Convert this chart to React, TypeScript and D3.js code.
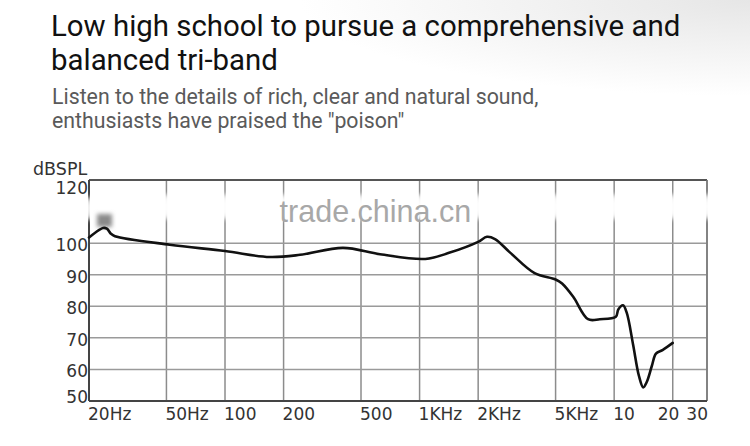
import React from "react";
import * as d3 from "d3";

const W = 750;
const H = 446;

const titleLines = ["Low high school to pursue a comprehensive and", "balanced tri-band"];
const subtitleLines = ["Listen to the details of rich, clear and natural sound,", 'enthusiasts have praised the "poison"'];
const yLabel = "dBSPL";
const watermark = "trade.china.cn";

const yTicks = [50, 60, 70, 80, 90, 100, 120];
const xTicks = [20, 50, 100, 200, 500, 1000, 2000, 5000, 10000, 20000, 30000];
const xTickLabels = ["20Hz", "50Hz", "100", "200", "500", "1KHz", "2KHz", "5KHz", "10", "20", "30"];

const freqs = [20, 21.5, 23.6, 24.7, 25.9, 27.2, 52, 100, 170, 243, 404, 626, 1070, 1430, 2000, 2220, 2440, 2920, 3900, 5000, 5400, 6160, 7340, 8440, 10200, 10500, 11100, 11600, 12500, 13400, 14100, 14700, 15600, 16400, 17800, 20000];
const spl = [101.8, 103.3, 104.8, 104.6, 103.0, 102.2, 99.5, 97.5, 95.6, 96.3, 98.5, 96.5, 95.0, 97.0, 100.4, 102.0, 101.3, 97.0, 90.5, 88.5, 87.2, 83.0, 75.9, 75.9, 76.7, 79.0, 80.3, 78.0, 68.0, 58.0, 54.3, 56.0, 61.0, 65.0, 66.2, 68.4];

export default function App() {
  const left = 89, right = 707, top = 180, bottom = 401;
  const x = d3.scaleLog().domain([20, 30000]).range([left, right]);
  const y = d3.scaleLinear().domain([50, 120]).range([bottom, top]);
  const line = d3
    .line<number>()
    .x((_, i) => x(freqs[i]))
    .y((d) => y(d))
    .curve(d3.curveCatmullRom.alpha(0.5));
  const path = line(spl) || "";

  const font = "Roboto, 'Open Sans', sans-serif";
  const tickFont = "'DejaVu Sans', sans-serif";

  return (
    <svg width={W} height={H} style={{ position: "absolute", left: 0, top: 0, display: "block" }}>
      <defs>
        <radialGradient id="bg" cx="100%" cy="0%" r="60%">
          <stop offset="0%" stopColor="#e6e6e6" />
          <stop offset="100%" stopColor="#ffffff" />
        </radialGradient>
        <filter id="blur2" x="-100%" y="-100%" width="300%" height="300%">
          <feGaussianBlur stdDeviation="2" />
        </filter>
      </defs>
      <rect x={0} y={0} width={W} height={H} fill="#fff" />
      <rect x={0} y={0} width={W} height={160} fill="url(#bg)" />

      {titleLines.map((t, i) => (
        <text key={t} x={51} y={36 + i * 34} fontFamily={font} fontSize={29.4} fill="#111">
          {t}
        </text>
      ))}
      {subtitleLines.map((t, i) => (
        <text key={t} x={52} y={104 + i * 24} fontFamily={font} fontSize={21.3} fill="#5a5a5a">
          {t}
        </text>
      ))}

      {/* grid */}
      {xTicks.map((f) => (
        <line key={"vx" + f} x1={x(f)} x2={x(f)} y1={top} y2={bottom} stroke="#8c8c8c" strokeWidth={1.5} />
      ))}
      {yTicks.map((v) => (
        <line key={"hy" + v} x1={left} x2={right} y1={y(v)} y2={y(v)} stroke="#9a9a9a" strokeWidth={1.5} />
      ))}
      <line x1={left} x2={right} y1={top} y2={top} stroke="#555" strokeWidth={2} />
      <line x1={right} x2={right} y1={top} y2={bottom} stroke="#777" strokeWidth={1.5} />
      <line x1={left} x2={left} y1={top} y2={bottom} stroke="#444" strokeWidth={2} />
      <line x1={left} x2={right} y1={bottom} y2={bottom} stroke="#444" strokeWidth={2} />

      {/* blurred patches of the original */}
      {xTicks.slice(1).map((f) => (
        <ellipse key={"bl" + f} cx={x(f)} cy={y(111.5)} rx={5} ry={13} fill="#fff" filter="url(#blur2)" />
      ))}
      <ellipse cx={left} cy={y(111)} rx={4} ry={12} fill="#fff" filter="url(#blur2)" />
      <rect x={97} y={214} width={15} height={13} fill="#8a8a8a" filter="url(#blur2)" />

      <text x={x(1000) - 140} y={222} fontFamily="'Liberation Sans', Arial, sans-serif" fontSize={30.5} fill="#a8a8a8">
        {watermark}
      </text>

      <path d={path} fill="none" stroke="#111" strokeWidth={2.6} strokeLinejoin="round" strokeLinecap="round" />

      {/* y labels */}
      {yTicks.map((v) => (
        <text
          key={"yl" + v}
          x={left - 1}
          y={y(v) + (v === 120 ? 14 : v === 50 ? 2 : 8)}
          textAnchor="end"
          fontFamily={tickFont}
          fontSize={17}
          fill="#333"
        >
          {v}
        </text>
      ))}
      <text x={33} y={175} fontFamily={tickFont} fontSize={17.5} fill="#333">
        {yLabel}
      </text>

      {/* x labels */}
      {xTicks.map((f, i) => {
        const isLast = i === xTicks.length - 1;
        const isPenult = i === xTicks.length - 2;
        return (
          <text
            key={"xl" + f}
            x={isLast ? x(f) + 1 : isPenult ? x(f) - 15 : x(f) - 1}
            y={420}
            textAnchor={isLast ? "end" : "start"}
            fontFamily={tickFont}
            fontSize={17}
            fill="#333"
          >
            {xTickLabels[i]}
          </text>
        );
      })}
    </svg>
  );
}
